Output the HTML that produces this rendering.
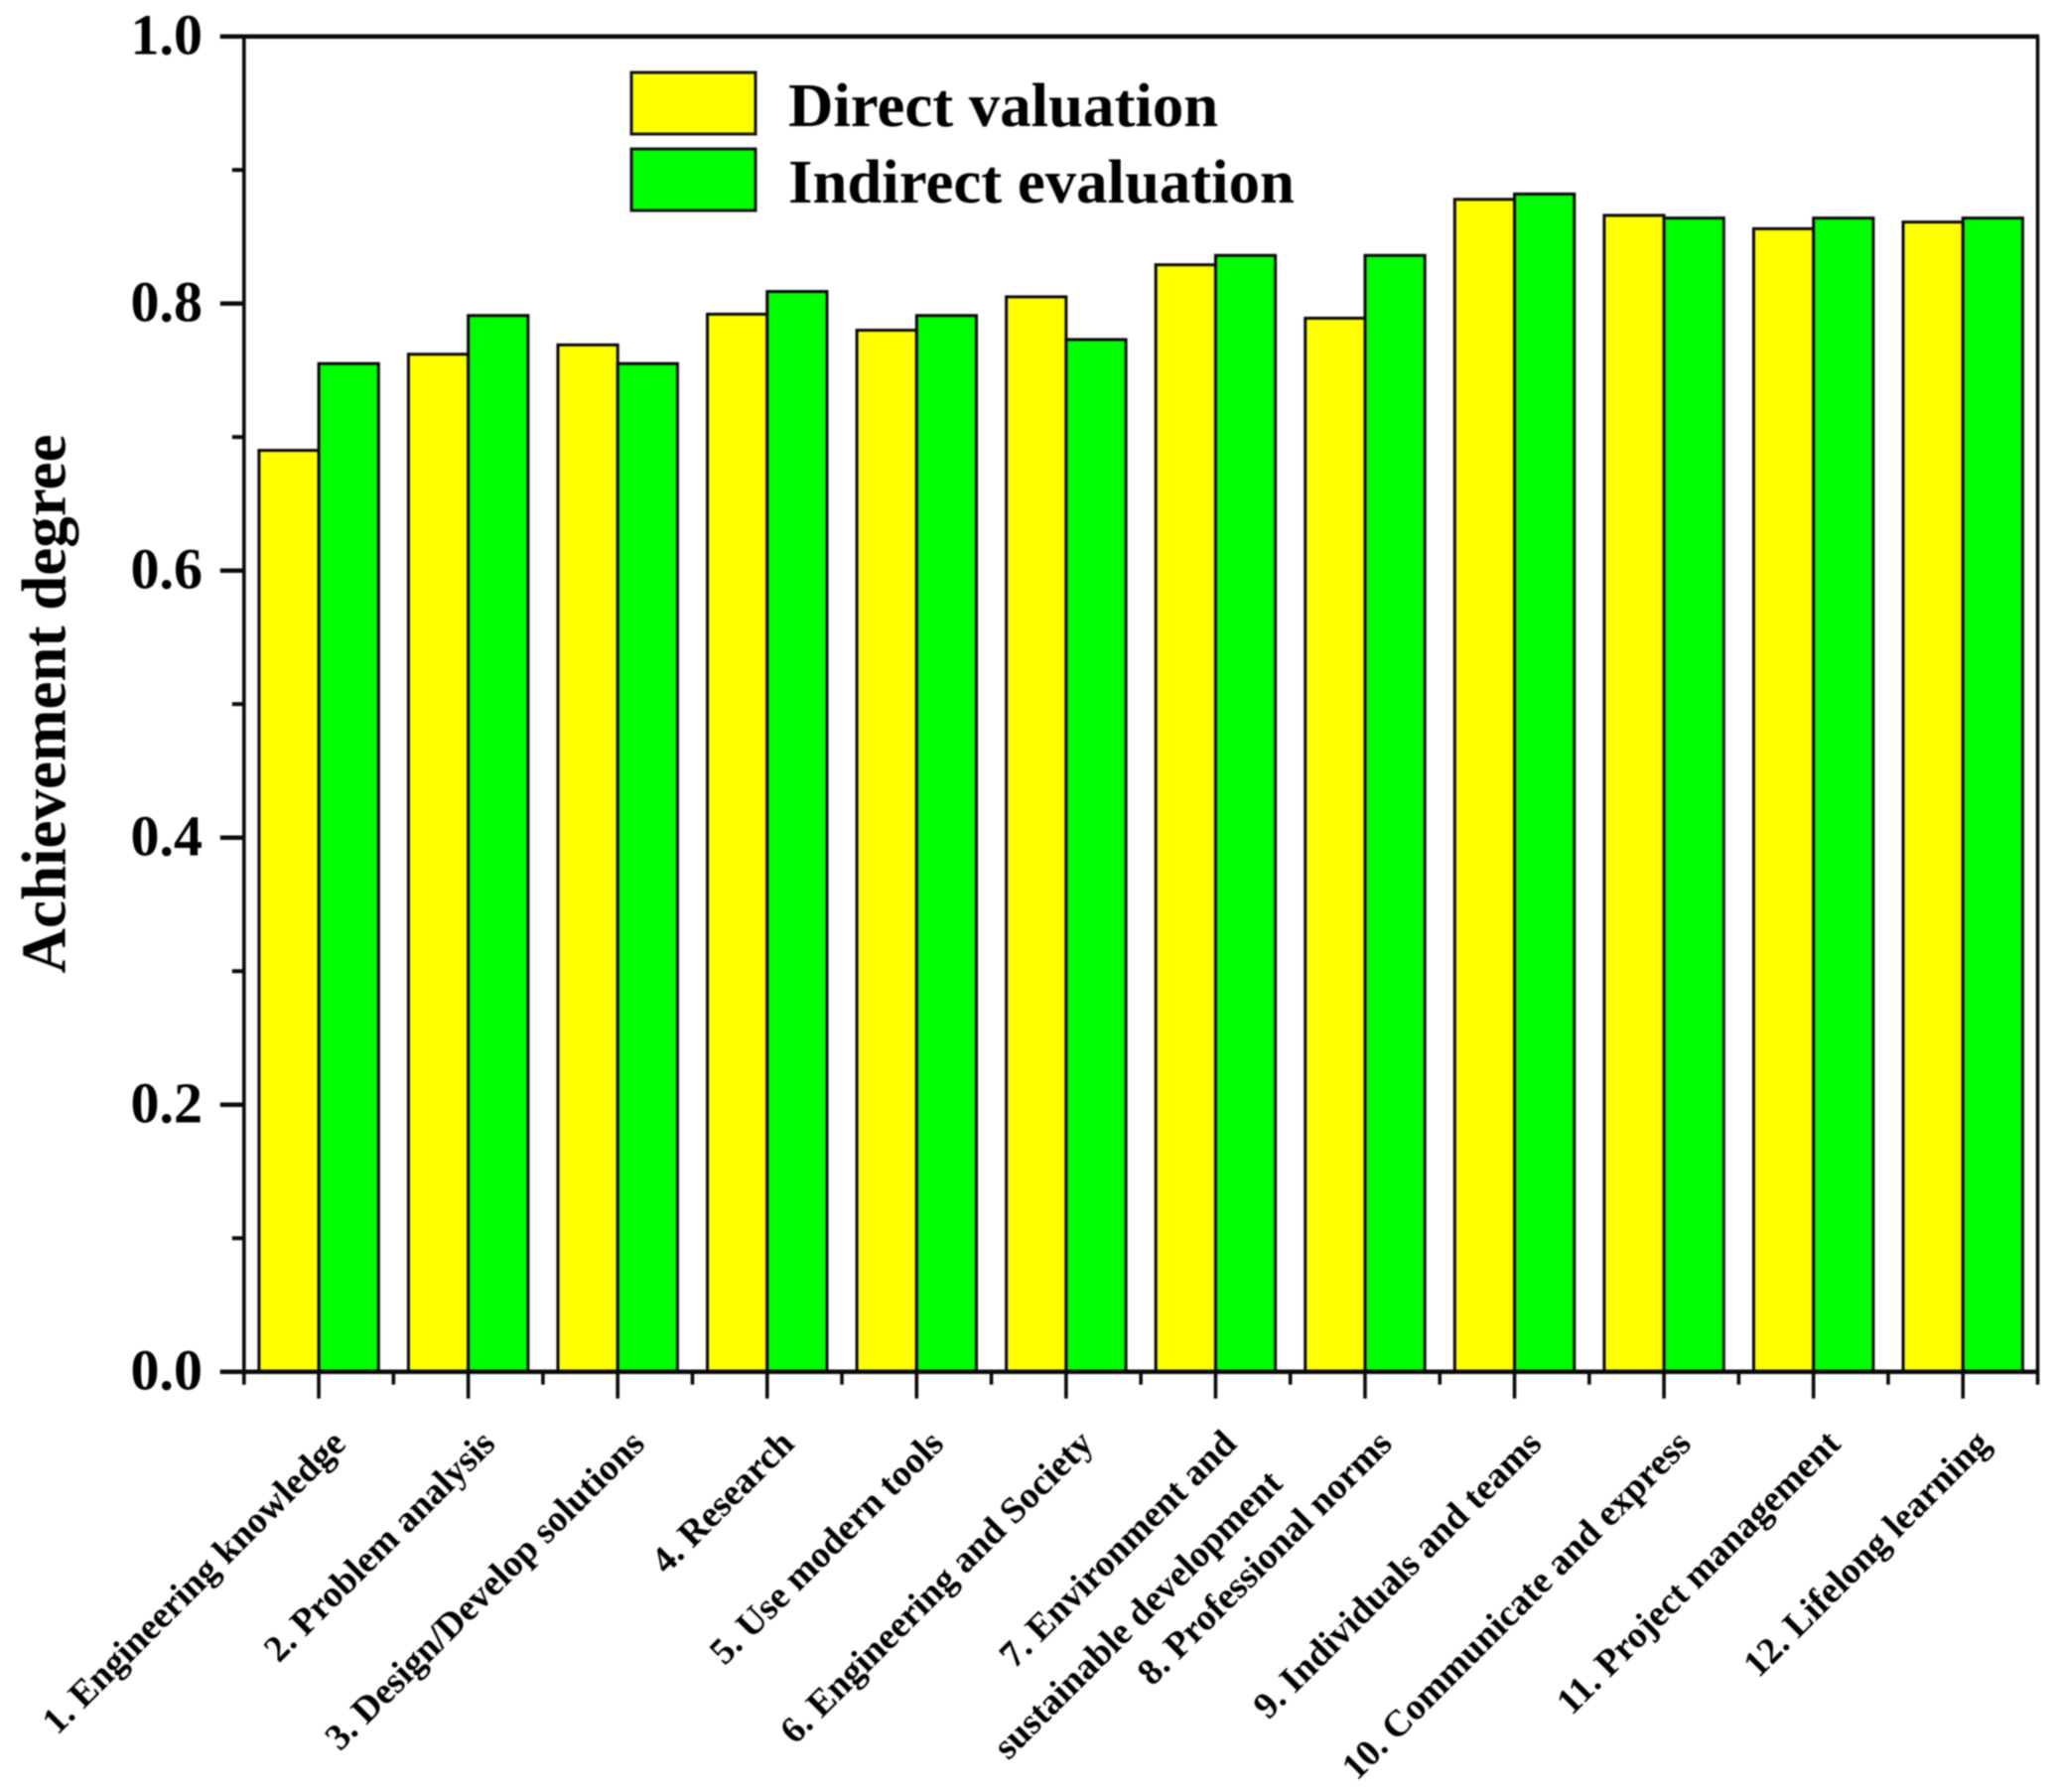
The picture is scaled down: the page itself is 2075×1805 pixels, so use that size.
<!DOCTYPE html>
<html lang="en">
<head>
<meta charset="utf-8">
<title>Achievement degree chart</title>
<style>
html,body{margin:0;padding:0;background:#fff;}
svg{display:block;filter:blur(0.7px);}
text{font-family:"Liberation Serif",serif;font-weight:bold;fill:#000;}
</style>
</head>
<body>
<svg id="chart" xmlns="http://www.w3.org/2000/svg" width="2075" height="1805" viewBox="0 0 2075 1805">
  <rect x="0" y="0" width="2075" height="1805" fill="#fff"/>
  <g id="marks"></g>
  <g id="axes"></g>
  <text transform="translate(65.5 709) rotate(-90)" text-anchor="middle" font-size="63">Achievement degree</text>
  <g>
    <rect x="636" y="73" width="125" height="62" fill="#ffff00" stroke="#111" stroke-width="3"/>
    <text x="794" y="127" font-size="62.8">Direct valuation</text>
    <rect x="636" y="150" width="125" height="62" fill="#00ff00" stroke="#111" stroke-width="3"/>
    <text x="794" y="204" font-size="62.8">Indirect evaluation</text>
  </g>
</svg>
<script>
const categories = [
  "1. Engineering knowledge",
  "2. Problem analysis",
  "3. Design/Develop solutions",
  "4. Research",
  "5. Use modern tools",
  "6. Engineering and Society",
  "7. Environment and|sustainable development",
  "8. Professional norms",
  "9. Individuals and teams",
  "10. Communicate and express",
  "11. Project management",
  "12. Lifelong learning"
];
const directValues = [0.690, 0.762, 0.769, 0.792, 0.780, 0.805, 0.829, 0.789, 0.878, 0.866, 0.856, 0.861];
const indirectValues = [0.755, 0.791, 0.755, 0.809, 0.791, 0.773, 0.836, 0.836, 0.882, 0.864, 0.864, 0.864];
const yMajorTicks = [0.0, 0.2, 0.4, 0.6, 0.8, 1.0];
const yMinorTicks = [0.1, 0.3, 0.5, 0.7, 0.9];

const NS = "http://www.w3.org/2000/svg";
const plot = { left: 245.8, right: 2052.5, top: 36.7, bottom: 1381.7 };
const xScale = v => plot.left + (v - 0.5) * (plot.right - plot.left) / categories.length;
const yScale = v => plot.bottom - v * (plot.bottom - plot.top);
const INK = "#0a0a0a";
const marks = document.getElementById("marks");
const axes = document.getElementById("axes");

function makeLine(x1, y1, x2, y2, w) {
  const l = document.createElementNS(NS, "line");
  l.setAttribute("x1", x1);
  l.setAttribute("y1", y1);
  l.setAttribute("x2", x2);
  l.setAttribute("y2", y2);
  l.setAttribute("stroke", INK);
  l.setAttribute("stroke-width", w);
  axes.appendChild(l);
  return l;
}

function makeBar(center, value, fill) {
  const r = document.createElementNS(NS, "rect");
  const y = yScale(value);
  const x0 = xScale(center);
  const x1 = xScale(center + 0.4);
  r.setAttribute("x", x0);
  r.setAttribute("y", y);
  r.setAttribute("width", x1 - x0);
  r.setAttribute("height", plot.bottom - y);
  r.setAttribute("fill", fill);
  r.setAttribute("stroke", INK);
  r.setAttribute("stroke-width", 3);
  marks.appendChild(r);
  return r;
}

directValues.forEach((v, i) => {
  const bar = makeBar(i + 1 - 0.4, v, "#ffff00");
  
  
});
indirectValues.forEach((v, i) => {
  const bar = makeBar(i + 1, v, "#00ff00");
  
  
});

const topAxis = makeLine(plot.left - 24, plot.top, plot.right + 1.5, plot.top, 4.5);


const leftAxis = makeLine(plot.left, plot.top, plot.left, plot.bottom + 13, 3.6);


const rightAxis = makeLine(plot.right, plot.top, plot.right, plot.bottom + 13, 3.6);


const bottomAxis = makeLine(plot.left - 24, plot.bottom, plot.right, plot.bottom, 4.5);



yMajorTicks.forEach(v => {
  const tick = makeLine(plot.left - 24, yScale(v), plot.left, yScale(v), 4.5);
  
  
  const t = document.createElementNS(NS, "text");
  
  
  t.setAttribute("x", 204);
  t.setAttribute("y", yScale(v) + 18);
  t.setAttribute("text-anchor", "end");
  t.setAttribute("font-size", 58);
  t.textContent = v.toFixed(1);
  axes.appendChild(t);
});
yMinorTicks.forEach(v => {
  const tick = makeLine(plot.left - 12, yScale(v), plot.left, yScale(v), 4);
  
  
});

categories.forEach((label, i) => {
  const c = i + 1;
  const major = makeLine(xScale(c), plot.bottom, xScale(c), plot.bottom + 27, 3.6);
  
  
  if (i > 0) {
    const minor = makeLine(xScale(c - 0.5), plot.bottom, xScale(c - 0.5), plot.bottom + 13, 3.6);
    
    
  }
  const lines = label.split("|");
  lines.forEach((line, k) => {
    const t = document.createElementNS(NS, "text");
    
    
    const ax = xScale(c) + (lines.length > 1 ? 23 : 29) + k * 46;
    const ay = 1456 + k * 40;
    t.setAttribute("transform", "translate(" + ax + " " + ay + ") rotate(-45)");
    t.setAttribute("text-anchor", "end");
    t.setAttribute("font-size", 37.5);
    t.textContent = line;
    axes.appendChild(t);
  });
});
</script>
</body>
</html>
